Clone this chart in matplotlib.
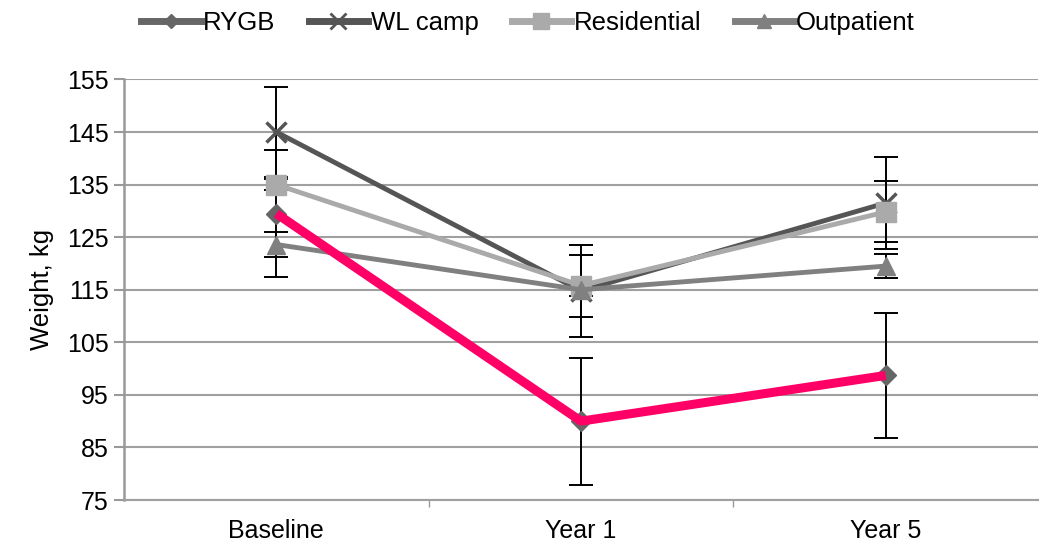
import matplotlib
matplotlib.use("Agg")
import matplotlib.pyplot as plt
from matplotlib.lines import Line2D

plt.rcParams["font.family"] = ["Liberation Sans", "DejaVu Sans"]

# --- Data ---
timepoints = ["Baseline", "Year 1", "Year 5"]
groups = ["RYGB", "WL camp", "Residential", "Outpatient"]

rygb = [129.5, 90.0, 98.7]
rygb_err = [12.0, 12.1, 11.9]
wl_camp = [145.0, 114.8, 131.5]
wl_camp_err = [8.6, 8.7, 8.8]
residential = [135.0, 115.8, 129.8]
residential_err = [1.0, 5.9, 5.8]
outpatient = [123.6, 115.0, 119.5]
outpatient_err = [2.4, 1.2, 2.35]

y_ticks = [75, 85, 95, 105, 115, 125, 135, 145, 155]

# --- Styles ---
styles = {
    "RYGB": dict(color="#666666", marker="D", ms=10),
    "WL camp": dict(color="#555555", marker="x", ms=14),
    "Residential": dict(color="#aaaaaa", marker="s", ms=14),
    "Outpatient": dict(color="#808080", marker="^", ms=13),
}
pink = "#ff0066"

fig = plt.figure(figsize=(10.46, 5.47), dpi=100)
ax = fig.add_axes([0.1185, 0.0859, 0.8739, 0.7688])

x = list(range(len(timepoints)))
series = [
    ("WL camp", wl_camp, wl_camp_err),
    ("Residential", residential, residential_err),
    ("Outpatient", outpatient, outpatient_err),
    ("RYGB", rygb, rygb_err),
]

# error bars behind everything
for name, vals, errs in series:
    ax.errorbar(x, vals, yerr=errs, fmt="none", ecolor="black",
                elinewidth=1.4, capsize=8.5, capthick=1.4, zorder=2)

for name, vals, errs in series:
    st = styles[name]
    if name == "RYGB":
        ax.plot(x, vals, linestyle="none", marker=st["marker"], ms=st["ms"],
                color=st["color"], zorder=4)
        ax.plot(x, vals, color=pink, linewidth=6.5, solid_capstyle="butt",
                zorder=5)
    else:
        ax.plot(x, vals, color=st["color"], linewidth=3.5,
                marker=st["marker"], ms=st["ms"],
                markeredgewidth=2.5 if st["marker"] == "x" else 1,
                markeredgecolor=st["color"], zorder=3)

ax.set_xlim(-0.5, 2.5)
ax.set_ylim(75, 155)
ax.set_yticks(y_ticks)
ax.set_xticks(x)
ax.set_xticklabels(timepoints, fontsize=18)
ax.set_xticks([0.5, 1.5], minor=True)
ax.tick_params(axis="y", labelsize=18, length=7, width=1.5, color="#999999", pad=4)
ax.tick_params(axis="x", which="major", length=0, pad=14)
ax.tick_params(axis="x", which="minor", length=5, width=1, color="#999999")
ax.set_ylabel("Weight, kg", fontsize=18.5, labelpad=9)

ax.grid(axis="y", color="#a0a0a0", linewidth=1.5)
ax.set_axisbelow(True)
for s in ["top", "right"]:
    ax.spines[s].set_visible(False)
ax.spines["left"].set_color("#999999")
ax.spines["left"].set_linewidth(1.8)
ax.spines["bottom"].set_color("#a0a0a0")
ax.spines["bottom"].set_linewidth(1.5)

handles = []
for name in groups:
    st = styles[name]
    handles.append(Line2D([0], [0], color=st["color"], linewidth=5,
                          marker=st["marker"], ms=st["ms"] - 3,
                          markeredgewidth=2 if st["marker"] == "x" else 1,
                          markeredgecolor=st["color"]))
fig.legend(handles, groups, loc="center", bbox_to_anchor=(0.505, 0.958),
           ncol=4, frameon=False, fontsize=18.5, handlelength=2.3,
           handletextpad=0.1, columnspacing=1.3)

plt.savefig("out.png", dpi=100)
